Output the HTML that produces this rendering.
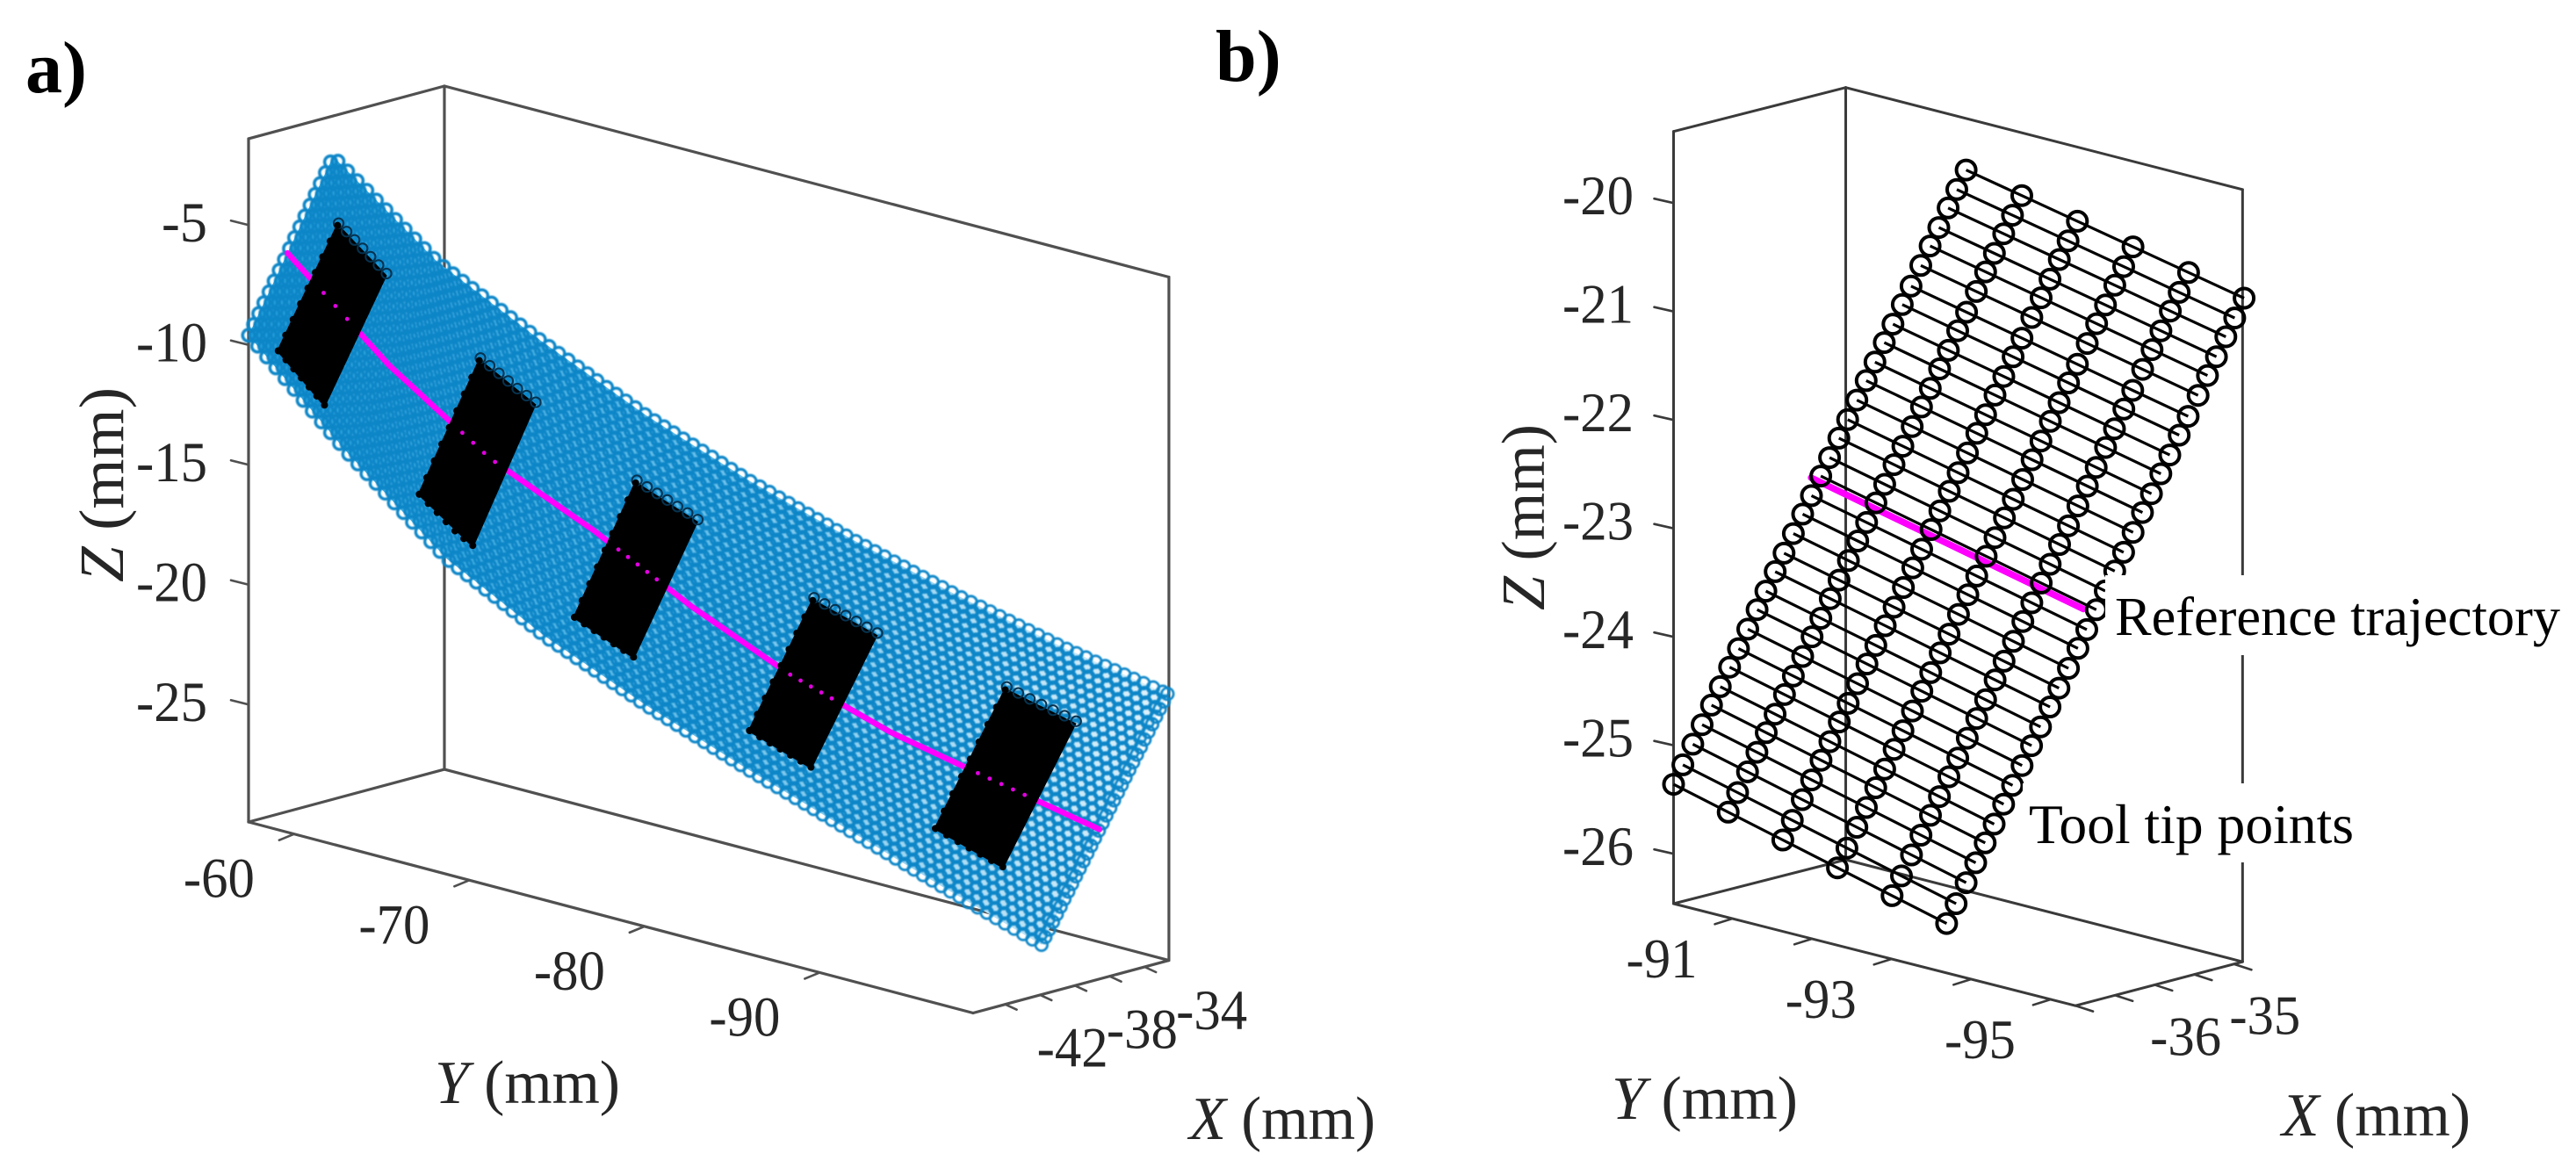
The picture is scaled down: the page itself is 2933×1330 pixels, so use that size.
<!DOCTYPE html>
<html lang="en">
<head>
<meta charset="utf-8">
<title>Tool tip points and reference trajectory</title>
<style>
html,body{margin:0;padding:0;background:#fff;}
svg{display:block;}
text{font-family:"Liberation Serif",serif;fill:#262626;}
</style>
</head>
<body>
<svg id="figure" xmlns="http://www.w3.org/2000/svg" width="2933" height="1330" viewBox="0 0 2933 1330">
  <defs>
    <filter id="soft" x="-5%" y="-5%" width="110%" height="110%"><feGaussianBlur stdDeviation="0.7"/></filter>
    <linearGradient id="underlay" gradientUnits="userSpaceOnUse" x1="283" y1="0" x2="1335" y2="0">
      <stop offset="0" stop-color="#2aa3de"/>
      <stop offset="0.5" stop-color="#6cc0ea"/>
      <stop offset="1" stop-color="#e4f4fc"/>
    </linearGradient>
  </defs>
  <rect x="0" y="0" width="2933" height="1330" fill="#fff"/>
  <g id="panelA"></g>
  <g id="panelB"></g>
  <text x="29" y="105" font-size="84" font-weight="bold" style="fill:#000">a)</text>
  <text x="1384" y="92" font-size="84" font-weight="bold" style="fill:#000">b)</text>
</svg>
<script>
/* ---------- Panel a data ---------- */
const aXLim = [-43.85, -32.6];
const aYLim = [-98.75, -57.4];
const aZLim = [-29.9, -1.4];
const aZTicks = [-5, -10, -15, -20, -25];
const aYTicks = [-60, -70, -80, -90];
const aXTicks = [-42, -40, -38, -36, -34];
const aXTickLabels = [-42, -38, -34];
const surfaceY = [-57.4, -62.57, -67.74, -72.9, -78.08, -83.24, -88.41, -93.58, -98.75];
const surfaceLowerX = [-43.85, -43.36, -42.87, -42.38, -41.89, -41.39, -40.9, -40.41, -39.92];
const surfaceLowerZ = [-9.6, -13.61, -17.12, -19.48, -21.40, -23.11, -24.70, -26.30, -27.82];
const surfaceUpperX = [-38.99, -38.2, -37.41, -36.62, -35.84, -35.05, -34.26, -33.47, -32.68];
const surfaceUpperZ = [-3.09, -6.65, -9.12, -11.36, -13.27, -14.9, -16.38, -17.67, -18.77];
const trajectoryFraction = [0.46, 0.46, 0.46, 0.48, 0.44, 0.41, 0.41, 0.44, 0.46];
const patchYStart = [-58.64, -65.75, -73.69, -82.75, -92.13];
const patchYEnd = [-61.04, -68.52, -76.75, -85.93, -95.61];
const patchLow = [0.07, 0.115, 0.135, 0.135, 0.175];
const patchHigh = [0.76, 0.76, 0.74, 0.71, 0.76];
const meshStations = 88;
const meshRows = 34;

/* ---------- Panel b data ---------- */
const bXLim = [-36.5, -34.39];
const bYLim = [-95.31, -90.26];
const bZLim = [-26.46, -19.34];
const bZTicks = [-20, -21, -22, -23, -24, -25, -26];
const bYTicks = [-91, -92, -93, -94, -95];
const bYTickLabels = [-91, -93, -95];
const bXTicks = [-36.5, -36, -35.5, -35, -34.5];
const bXTickLabels = [-36, -35];
const gridColumnFraction = [0, 0.2, 0.4, 0.6, 0.8, 1];
const gridRowZ = [-19.70,-19.88,-20.05,-20.23,-20.40,-20.58,-20.77,-20.94,-21.12,-21.29,-21.47,-21.64,-21.82,-22.00,-22.17,-22.35,-22.52,-22.70,-22.87,-23.05,-23.23,-23.40,-23.58,-23.75,-23.93,-24.11,-24.28,-24.46,-24.63,-24.81,-24.99,-25.18,-25.36];
const gridTopFirst = [-34.69, -92.10, -19.70];
const gridTopLast = [-34.41, -95.35, -20.33];
const gridBottomFirst = [-36.5, -90.26, -25.36];
const gridBottomLast = [-36.3, -93.49, -26.08];
const referenceX = [-35.6, -35.4];
const referenceY = [-91.07, -94.31];
const referenceZ = [-22.555, -23.2];

/* ---------- Helpers ---------- */
const NS = 'http://www.w3.org/2000/svg';
function add(parent, tag, attrs, name) {
  const el = document.createElementNS(NS, tag);
  for (const k in attrs) el.setAttribute(k, attrs[k]);
  
  
  parent.appendChild(el);
  return el;
}
function pts(list) { return list.map(p => p[0].toFixed(1) + ',' + p[1].toFixed(1)).join(' '); }
function lerp(a, b, f) { return a + (b - a) * f; }
function line(parent, p, q, color, w, name) {
  return add(parent, 'line', {x1: p[0], y1: p[1], x2: q[0], y2: q[1], stroke: color, 'stroke-width': w, 'stroke-linecap': 'round'}, name);
}
function tickLabel(parent, x, y, str, anchor, size, name) {
  const len = str.length >= 3 ? 81 : 52;
  const sx = anchor === 'end' ? x - len : x;
  const t = add(parent, 'text', {x: sx, y: y, 'font-size': size, textLength: len, lengthAdjust: 'spacingAndGlyphs'}, name);
  t.textContent = str;
  return t;
}
function axisTitle(parent, x, y, letter, len, size, rotate, name) {
  const attrs = {x: x, y: y, 'font-size': size, textLength: len, lengthAdjust: 'spacingAndGlyphs'};
  if (rotate) attrs.transform = 'rotate(-90 ' + x + ' ' + y + ')';
  const t = add(parent, 'text', attrs, name);
  const s = add(t, 'tspan', {'font-style': 'italic'}, name + '-letter');
  s.textContent = letter;
  const r = add(t, 'tspan', {}, name + '-unit');
  r.textContent = ' (mm)';
  return t;
}

/* ---------- Panel a ---------- */
const A = document.getElementById('panelA');
function projA(x, y, z) {
  const dx = x - aXLim[0], dy = aYLim[1] - y, dz = z - aZLim[0];
  return [283 + dx * 19.82 + dy * 19.95, 936 - dx * 5.33 + dy * 5.26 - dz * 27.3];
}
function stationValue(arr, y) {
  const n = surfaceY.length;
  let i = 0;
  while (i < n - 2 && y < surfaceY[i + 1]) i++;
  const f = (y - surfaceY[i]) / (surfaceY[i + 1] - surfaceY[i]);
  return lerp(arr[i], arr[i + 1], f);
}
function surfacePoint(y, v) {
  const x = lerp(stationValue(surfaceLowerX, y), stationValue(surfaceUpperX, y), v);
  const z = lerp(stationValue(surfaceLowerZ, y), stationValue(surfaceUpperZ, y), v);
  return projA(x, y, z);
}
(function drawA() {
  const boxColor = '#505050', bw = 3.2;
  const [x0, x1] = aXLim, [y0, y1] = aYLim, [z0, z1] = aZLim;
  const box = add(A, 'g', {}, 'panel-a-axes-box');
  const edges = [
    [[x0,y1,z0],[x0,y1,z1]], [[x1,y1,z0],[x1,y1,z1]], [[x1,y0,z0],[x1,y0,z1]],
    [[x0,y1,z1],[x1,y1,z1]], [[x1,y1,z1],[x1,y0,z1]],
    [[x0,y1,z0],[x1,y1,z0]], [[x1,y1,z0],[x1,y0,z0]], [[x0,y1,z0],[x0,y0,z0]], [[x0,y0,z0],[x1,y0,z0]]
  ];
  edges.forEach(e => line(box, projA(...e[0]), projA(...e[1]), boxColor, bw, 'panel-a-box-edge'));

  const zt = add(A, 'g', {}, 'panel-a-z-axis');
  aZTicks.forEach(v => {
    const p = projA(x0, y1, v);
    line(zt, p, [p[0] - 20, p[1] - 5], boxColor, 2.6, 'z-tick');
    tickLabel(zt, 236, p[1] + 19, String(v), 'end', 65, 'z-tick-label');
  });
  const yt = add(A, 'g', {}, 'panel-a-y-axis');
  aYTicks.forEach(v => {
    const p = projA(x0, v, z0);
    line(yt, p, [p[0] - 17, p[1] + 7], boxColor, 2.6, 'y-tick');
    tickLabel(yt, p[0] - 45, p[1] + 72, String(v), 'end', 65, 'y-tick-label');
  });
  const xt = add(A, 'g', {}, 'panel-a-x-axis');
  aXTicks.forEach(v => {
    const p = projA(v, y0, z0);
    line(xt, p, [p[0] + 13, p[1] + 6], boxColor, 2.6, 'x-tick');
    if (aXTickLabels.includes(v)) tickLabel(xt, p[0] + 36, p[1] + 71, String(v), 'start', 65, 'x-tick-label');
  });
  axisTitle(A, 140, 663, 'Z', 222, 72, true, 'panel-a-z-axis-title');
  axisTitle(A, 495, 1256, 'Y', 211, 70, false, 'panel-a-y-axis-title');
  axisTitle(A, 1354, 1297, 'X', 212, 70, false, 'panel-a-x-axis-title');

  /* tool path mesh */
  const yStart = surfaceY[0], yEnd = surfaceY[surfaceY.length - 1];
  const outline = [];
  for (let i = 0; i <= 32; i++) outline.push(surfacePoint(lerp(yStart, yEnd, i / 32), 1));
  for (let i = 32; i >= 0; i--) outline.push(surfacePoint(lerp(yStart, yEnd, i / 32), 0));
  add(A, 'polygon', {points: pts(outline), fill: 'url(#underlay)'}, 'surface-underlay');
  const mesh = add(A, 'g', {fill: 'none', stroke: '#0d86c8', filter: 'url(#soft)'}, 'surface-mesh');
  for (let i = 0; i < meshStations; i++) {
    const y = lerp(yStart, yEnd, i / (meshStations - 1));
    const sw = lerp(3.5, 2.7, i / (meshStations - 1)).toFixed(2);
    for (let j = 0; j < meshRows; j++) {
      const off = (j % 2) * 0.5 / (meshStations - 1);
      const yy = Math.max(yEnd, y + (yEnd - yStart) * off);
      const p = surfacePoint(yy, j / (meshRows - 1));
      add(mesh, 'circle', {cx: p[0].toFixed(1), cy: p[1].toFixed(1), r: 6.8, 'stroke-width': sw}, 'mesh-point');
    }
  }

  /* reference trajectory */
  const traj = [];
  for (let i = 0; i <= 96; i++) {
    const y = lerp(yStart, yEnd, i / 96);
    traj.push(surfacePoint(y, stationValue(trajectoryFraction, y)));
  }
  add(A, 'polyline', {points: pts(traj), fill: 'none', stroke: '#ff00ff', 'stroke-width': 6.5, 'stroke-linecap': 'round'}, 'reference-trajectory');

  /* black tool tip patches */
  patchYStart.forEach((ys, k) => {
    const ye = patchYEnd[k], lo = patchLow[k], hi = patchHigh[k];
    const g = add(A, 'g', {}, 'tool-tip-patch-' + (k + 1));
    const corners = [surfacePoint(ys, hi), surfacePoint(ye, hi), surfacePoint(ye, lo), surfacePoint(ys, lo)];
    add(g, 'polygon', {points: pts(corners), fill: '#000', stroke: '#000', 'stroke-width': 3}, 'patch-body');
    for (let i = 0; i <= 6; i++) {
      const y = lerp(ys, ye, i / 6);
      const top = surfacePoint(y, hi + 0.012);
      add(g, 'circle', {cx: top[0], cy: top[1], r: 5.6, fill: 'none', stroke: '#06324f', 'stroke-width': 2}, 'patch-top-ring');
      const bot = surfacePoint(y, lo);
      add(g, 'circle', {cx: bot[0], cy: bot[1], r: 4, fill: '#000'}, 'patch-edge-point');
    }
    for (let i = 0; i <= 8; i++) {
      const l = surfacePoint(ys, lerp(lo, hi, i / 8));
      add(g, 'circle', {cx: l[0], cy: l[1], r: 4, fill: '#000'}, 'patch-edge-point');
    }
    const steps = Math.max(4, Math.round(Math.abs(ye - ys) / 0.55));
    for (let i = 1; i < steps; i++) {
      const y = lerp(ys, ye, i / steps);
      const c = surfacePoint(y, stationValue(trajectoryFraction, y));
      add(g, 'circle', {cx: c[0], cy: c[1], r: 2.4, fill: '#e000e0'}, 'trajectory-dot');
    }
  });
})();

/* ---------- Panel b ---------- */
const B = document.getElementById('panelB');
function projB(x, y, z) {
  const dx = x - bXLim[0], dy = bYLim[1] - y, dz = z - bZLim[0];
  return [1905.5 + dx * 92.9 + dy * 90.6 - dx * dy * 0.535, 1029 - dx * 23.7 + dy * 23 - dz * 123.5];
}
(function drawB() {
  const boxColor = '#3a3a3a', bw = 3;
  const [x0, x1] = bXLim, [y0, y1] = bYLim, [z0, z1] = bZLim;
  const box = add(B, 'g', {}, 'panel-b-axes-box');
  const edges = [
    [[x0,y1,z0],[x0,y1,z1]], [[x1,y1,z0],[x1,y1,z1]], [[x1,y0,z0],[x1,y0,z1]],
    [[x0,y1,z1],[x1,y1,z1]], [[x1,y1,z1],[x1,y0,z1]],
    [[x0,y1,z0],[x1,y1,z0]], [[x1,y1,z0],[x1,y0,z0]], [[x0,y1,z0],[x0,y0,z0]], [[x0,y0,z0],[x1,y0,z0]]
  ];
  edges.forEach(e => line(box, projB(...e[0]), projB(...e[1]), boxColor, bw, 'panel-b-box-edge'));

  const zt = add(B, 'g', {}, 'panel-b-z-axis');
  bZTicks.forEach(v => {
    const p = projB(x0, y1, v);
    line(zt, p, [p[0] - 22, p[1] - 5], boxColor, 2.6, 'z-tick');
    tickLabel(zt, 1860, p[1] + 13, String(v), 'end', 64, 'z-tick-label');
  });
  const yt = add(B, 'g', {}, 'panel-b-y-axis');
  bYTicks.forEach(v => {
    const p = projB(x0, v, z0);
    line(yt, p, [p[0] - 20, p[1] + 6.3], boxColor, 2.6, 'y-tick');
    if (bYTickLabels.includes(v)) tickLabel(yt, p[0] - 40, p[1] + 67, String(v), 'end', 64, 'y-tick-label');
  });
  const xt = add(B, 'g', {}, 'panel-b-x-axis');
  bXTicks.forEach(v => {
    const p = projB(v, y0, z0);
    line(xt, p, [p[0] + 20, p[1] + 6.5], boxColor, 2.6, 'x-tick');
    if (bXTickLabels.includes(v)) tickLabel(xt, p[0] + 40, p[1] + 68, String(v), 'start', 64, 'x-tick-label');
  });
  axisTitle(B, 1758, 695, 'Z', 212, 70, true, 'panel-b-z-axis-title');
  axisTitle(B, 1835, 1274, 'Y', 212, 70, false, 'panel-b-y-axis-title');
  axisTitle(B, 2598, 1293, 'X', 215, 70, false, 'panel-b-x-axis-title');

  const zFirst = gridRowZ[0], zLast = gridRowZ[gridRowZ.length - 1];
  function gridPoint(rowZ, c) {
    const f = (zFirst - rowZ) / (zFirst - zLast);
    const v = [0, 1, 2].map(i => lerp(lerp(gridTopFirst[i], gridTopLast[i], c), lerp(gridBottomFirst[i], gridBottomLast[i], c), f));
    return projB(v[0], v[1], v[2]);
  }
  const rows = add(B, 'g', {fill: 'none', stroke: '#000', 'stroke-width': 3.2}, 'tool-tip-rows');
  gridRowZ.forEach(z => {
    add(rows, 'polyline', {points: pts(gridColumnFraction.map(c => gridPoint(z, c)))}, 'tool-tip-row-line');
  });
  const refPts = referenceX.map((x, i) => projB(x, referenceY[i], referenceZ[i]));
  add(B, 'polyline', {points: pts(refPts), fill: 'none', stroke: '#ff00ff', 'stroke-width': 7.5, 'stroke-linecap': 'round'}, 'reference-trajectory-line');
  const circles = add(B, 'g', {fill: 'none', stroke: '#000', 'stroke-width': 4}, 'tool-tip-points');
  gridRowZ.forEach(z => {
    gridColumnFraction.forEach(c => {
      const p = gridPoint(z, c);
      add(circles, 'circle', {cx: p[0].toFixed(1), cy: p[1].toFixed(1), r: 11}, 'tool-tip-point');
    });
  });

  add(B, 'rect', {x: 2397, y: 655, width: 525, height: 91, fill: '#fff'}, 'reference-label-background');
  add(B, 'rect', {x: 2303, y: 892, width: 387, height: 90, fill: '#fff'}, 'tool-tip-label-background');
  const rl = add(B, 'text', {x: 2408, y: 723, 'font-size': 62, textLength: 507, lengthAdjust: 'spacingAndGlyphs', style: 'fill:#000'}, 'reference-trajectory-label');
  rl.textContent = 'Reference trajectory';
  const tl = add(B, 'text', {x: 2310, y: 960, 'font-size': 63, textLength: 370, lengthAdjust: 'spacingAndGlyphs', style: 'fill:#000'}, 'tool-tip-points-label');
  tl.textContent = 'Tool tip points';
})();
</script>
</body>
</html>
